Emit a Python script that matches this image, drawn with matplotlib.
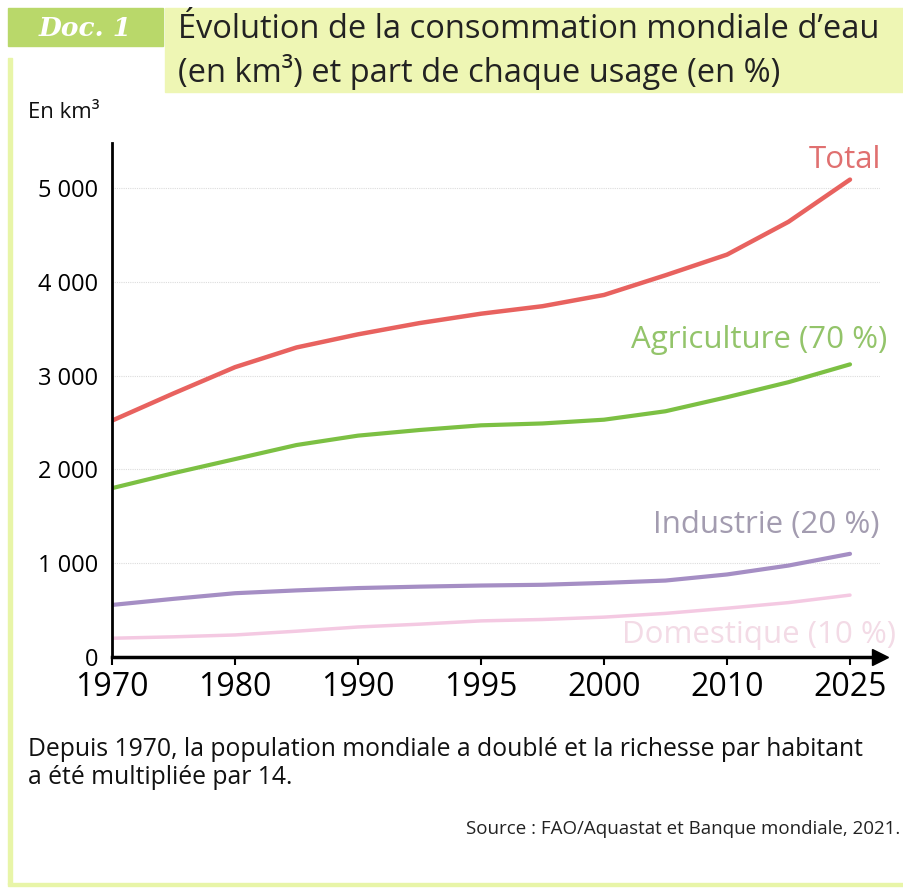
import matplotlib.pyplot as plt
from matplotlib.patches import Rectangle

annees = ['1970', '1980', '1990', '1995', '2000', '2010', '2025']
x_lu = [0, 0.5, 1, 1.5, 2, 2.5, 3, 3.5, 4, 4.5, 5, 5.5, 6]
total = [2520, 2810, 3090, 3300, 3440, 3560, 3660, 3740, 3860, 4070, 4290, 4640, 5090]
agriculture = [1800, 1960, 2110, 2260, 2360, 2420, 2470, 2490, 2530, 2620, 2770, 2930, 3120]
industrie = [555, 620, 680, 710, 735, 750, 762, 770, 790, 815, 880, 975, 1100]
domestique = [200, 215, 235, 275, 320, 350, 385, 400, 425, 465, 520, 580, 660]

yticks = [0, 1000, 2000, 3000, 4000, 5000]
ylabels = ['0', '1 000', '2 000', '3 000', '4 000', '5 000']

W, H = 904, 891
fig = plt.figure(figsize=(W / 100, H / 100), dpi=100)
fig.patch.set_facecolor('white')


def fx(px):
    return px / W


def fy(py):
    return 1 - py / H


# cadre et bandeau de titre
fig.patches.append(Rectangle((fx(165), fy(92)), fx(904 - 165), (92 - 8) / H,
                             transform=fig.transFigure, color='#eef6b4', zorder=0))
fig.patches.append(Rectangle((fx(8), fy(46)), fx(155), 38 / H,
                             transform=fig.transFigure, color='#b9d86a', zorder=1))
fig.patches.append(Rectangle((fx(8), fy(884)), fx(4), (884 - 58) / H,
                             transform=fig.transFigure, color='#e8f5a8', zorder=0))
fig.patches.append(Rectangle((fx(8), fy(886)), fx(896), 3 / H,
                             transform=fig.transFigure, color='#e8f5a8', zorder=0))

fig.text(fx(85), fy(28), 'Doc. 1', color='white', fontsize=19, fontweight='bold',
         fontstyle='italic', family='DejaVu Serif', ha='center', va='center')
fig.text(fx(178), fy(30), 'Évolution de la consommation mondiale d\u2019eau',
         fontsize=23.5, color='#222222', va='center', family='Open Sans')
fig.text(fx(178), fy(72), '(en km³) et part de chaque usage (en %)',
         fontsize=23.5, color='#222222', va='center', family='Open Sans')
fig.text(fx(28), fy(113), 'En km³', fontsize=16, color='#111111', va='center',
         family='Open Sans')

ax = fig.add_axes([fx(112), fy(657), fx(880 - 112), (657 - 143) / H])
x = list(range(len(annees)))
ax.set_xlim(0, (880 - 112) / 123)
ax.set_ylim(0, 5480)

for v in yticks[1:]:
    ax.axhline(v, color='#dcdcdc', lw=0.8, ls=(0, (1, 1)), zorder=0)

style = dict(solid_capstyle='round', solid_joinstyle='round')
ax.plot(x_lu, domestique, color='#f4c9e2', lw=2.5, **style)
ax.plot(x_lu, industrie, color='#a58ec4', lw=3, **style)
ax.plot(x_lu, agriculture, color='#7cc043', lw=3, **style)
ax.plot(x_lu, total, color='#e8625f', lw=3.2, **style)

lab = dict(fontsize=22.5, ha='right', va='center', family='Open Sans')
ax.text(6.25, 5300, 'Total', color='#e07070', **lab)
ax.text(6.3, 3380, 'Agriculture (70 %)', color='#93c46a', **lab)
ax.text(6.24, 1410, 'Industrie (20 %)', color='#a39cb0', **lab)
ax.text(6.37, 230, 'Domestique (10 %)', color='#f3dbe6', **lab)

for s in ['top', 'right']:
    ax.spines[s].set_visible(False)
ax.spines['left'].set_linewidth(2)
ax.spines['bottom'].set_linewidth(2.5)
ax.plot(1, 0, '>', color='black', markersize=11, transform=ax.transAxes, clip_on=False)

ax.set_xticks(x)
ax.set_xticklabels(annees, fontsize=23, family='Open Sans')
ax.set_yticks(yticks)
ax.set_yticklabels(ylabels, fontsize=17, family='Open Sans')
ax.tick_params(axis='x', direction='out', length=6, width=1.5, pad=4)
ax.tick_params(axis='y', length=0, pad=10)

fig.text(fx(28), fy(750), 'Depuis 1970, la population mondiale a doublé et la richesse par habitant',
         fontsize=17.8, color='#111111', va='center', family='Open Sans')
fig.text(fx(28), fy(778), 'a été multipliée par 14.',
         fontsize=17.8, color='#111111', va='center', family='Open Sans')
fig.text(fx(900), fy(829), 'Source : FAO/Aquastat et Banque mondiale, 2021.',
         fontsize=13.5, color='#222222', ha='right', va='center', family='Open Sans')

fig.savefig('out.png', dpi=100)
